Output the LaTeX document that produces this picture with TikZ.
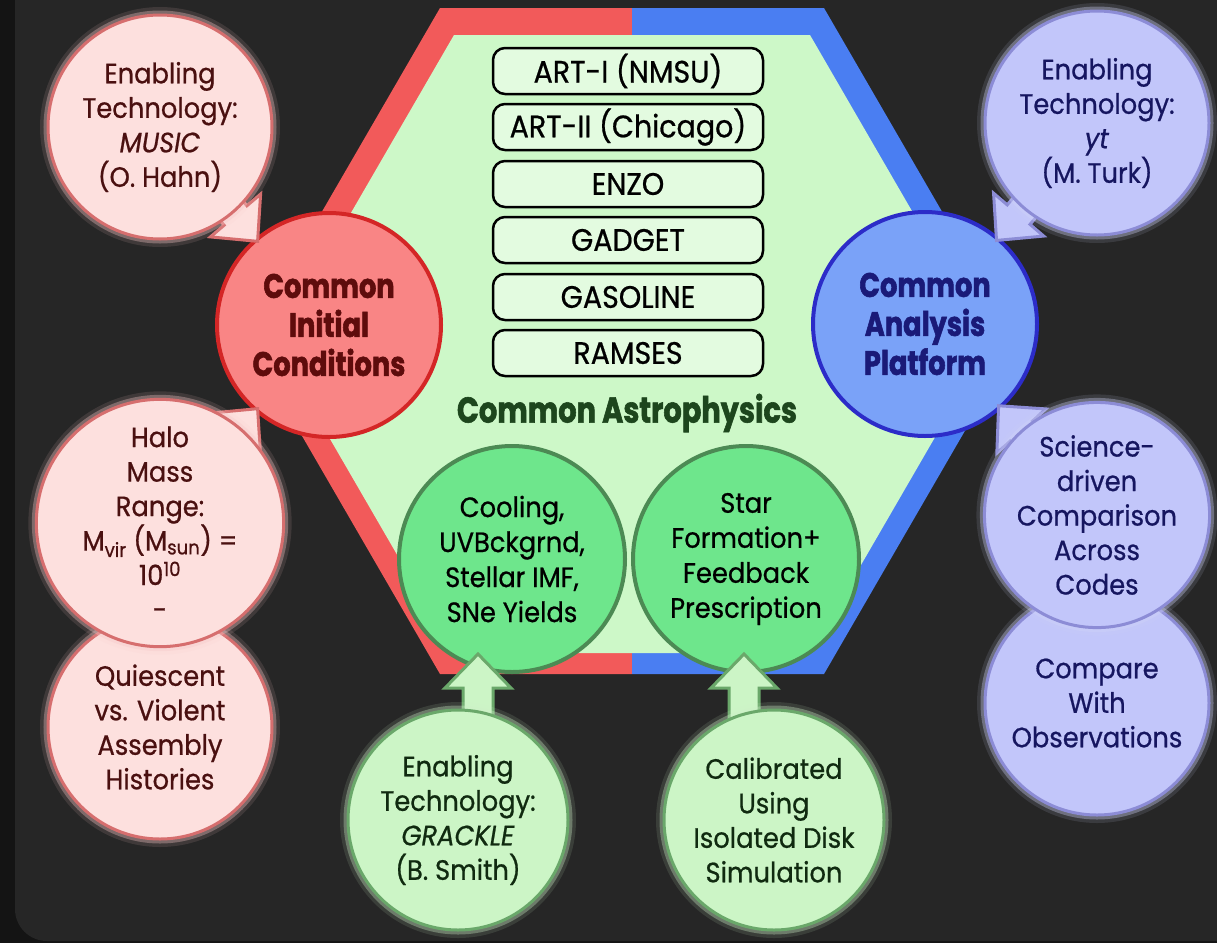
\documentclass[tikz,border=0pt]{standalone}
\usepackage{fontspec}
\setmainfont{Poppins}[FakeStretch=0.92, FakeBold=0.7]
\newfontfamily\headfont{Poppins}[FakeStretch=0.8, FakeBold=1.6]
\usetikzlibrary{calc}

\definecolor{outerbg}{HTML}{141414}
\definecolor{panel}{HTML}{262626}
\definecolor{hexred}{HTML}{F25A5A}
\definecolor{hexblue}{HTML}{4A7EF2}
\definecolor{hexfill}{HTML}{CDF8C8}
\definecolor{boxfill}{HTML}{E3FBE0}
\definecolor{astrotext}{HTML}{1D461D}
% satellite and hub colours
\definecolor{pinkfill}{HTML}{FDE0DE}
\definecolor{pinkline}{HTML}{D66E6E}
\definecolor{pinkglow}{HTML}{F6C8C8}
\definecolor{pinktext}{HTML}{4A1010}
\definecolor{redhubfill}{HTML}{F98585}
\definecolor{redhubline}{HTML}{D42626}
\definecolor{redhubtext}{HTML}{5E0C0C}
\definecolor{bluefill}{HTML}{C2C6FA}
\definecolor{blueline}{HTML}{8C8CD6}
\definecolor{blueglow}{HTML}{D0D3F8}
\definecolor{bluetext}{HTML}{161660}
\definecolor{bluehubfill}{HTML}{7AA2F8}
\definecolor{bluehubline}{HTML}{2C2CC8}
\definecolor{bluehubtext}{HTML}{1A1A78}
\definecolor{greenfill}{HTML}{CCF5C6}
\definecolor{greenline}{HTML}{6AA86A}
\definecolor{greenglow}{HTML}{CDEFC8}
\definecolor{greentext}{HTML}{102A10}
\definecolor{midgreen}{HTML}{6EE68C}
\definecolor{midgreenline}{HTML}{4C8A54}

\tikzset{
  satbase/.style={circle, minimum size=224pt, inner sep=0pt, line width=3pt,
    align=center, font=\fontsize{28}{34.5}\selectfont},
  glowof/.style={preaction={draw=#1, line width=16pt, draw opacity=0.12},
    preaction={draw=#1, line width=9pt, draw opacity=0.35}},
  pinksat/.style={satbase, fill=pinkfill, draw=pinkline, text=pinktext, glowof=pinkglow},
  bluesat/.style={satbase, fill=bluefill, draw=blueline, text=bluetext, glowof=blueglow},
  greensat/.style={satbase, minimum size=220pt, fill=greenfill, draw=greenline,
    text=greentext, glowof=greenglow},
  hub/.style={circle, minimum size=224pt, inner sep=0pt, line width=4pt,
    align=center, font=\headfont\bfseries\fontsize{34}{39}\selectfont},
  physics/.style={circle, minimum size=226pt, inner sep=0pt, line width=4pt,
    fill=midgreen, draw=midgreenline, text=black, align=center,
    font=\fontsize{28}{35}\selectfont},
  codebox/.style={draw=black, line width=2.5pt, rounded corners=12pt, fill=boxfill,
    minimum width=270pt, minimum height=46pt, inner sep=0pt,
    font=\fontsize{31}{36}\selectfont},
  pinkarrow/.style={fill=pinkfill, draw=pinkline, line width=3pt, line join=miter},
  bluearrow/.style={fill=bluefill, draw=blueline, line width=3pt, line join=miter},
  greenarrow/.style={fill=greenfill, draw=greenline, line width=3pt, line join=miter},
}

% block arrow: tip at #2, shaft running back toward #3
\newcommand\blockarr[3]{%
  \coordinate (ba-tip) at (#2);
  \coordinate (ba-base) at ($(#2)!34pt!(#3)$);
  \coordinate (ba-tail) at ($(#2)!95pt!(#3)$);
  \draw[#1] ($(ba-tail)!15pt!90:(ba-tip)$) -- ($(ba-base)!15pt!90:(ba-tip)$)
    -- ($(ba-base)!33pt!90:(ba-tip)$) -- (ba-tip)
    -- ($(ba-base)!33pt!-90:(ba-tip)$) -- ($(ba-base)!15pt!-90:(ba-tip)$)
    -- ($(ba-tail)!15pt!-90:(ba-tip)$) -- cycle;
}

\begin{document}
\begin{tikzpicture}[x=1pt,y=-1pt]
\useasboundingbox (0,0) rectangle (1217,943);
% backdrop
\fill[outerbg] (0,0) rectangle (1217,943);
\fill[panel, rounded corners=32pt] (15,-60) rectangle (1290,941);

% hexagon: red and blue halves of the rim, green interior
\fill[hexred] (632,8) -- (440,8) -- (247,341) -- (440,674) -- (632,674) -- cycle;
\fill[hexblue] (632,8) -- (824,8) -- (1017,341) -- (824,674) -- (632,674) -- cycle;
\fill[hexfill] (454,35) -- (810,35) -- (989,344) -- (810,653) -- (454,653) -- (275,344) -- cycle;

% simulation codes
\node[codebox] (art1) at (628,71) {ART-I (NMSU)};
\node[codebox] (art2) at (628,127) {ART-II (Chicago)};
\node[codebox] (enzo) at (628,184) {ENZO};
\node[codebox] (gadget) at (628,240) {GADGET};
\node[codebox] (gasoline) at (628,297) {GASOLINE};
\node[codebox] (ramses) at (628,353) {RAMSES};

\node[text=astrotext, font=\headfont\bfseries\fontsize{36}{40}\selectfont] (astro) at (627,413) {Common Astrophysics};

% physics modules
\node[physics] (cooling) at (512,559) {Cooling,\\UVBckgrnd,\\Stellar IMF,\\SNe Yields};
\node[physics] (star) at (746,559) {Star\\Formation+\\Feedback\\Prescription};

% hubs
\node[hub, fill=redhubfill, draw=redhubline, text=redhubtext] (initial) at (329,325) {Common\\Initial\\Conditions};
\node[hub, fill=bluehubfill, draw=bluehubline, text=bluehubtext] (analysis) at (925,324) {Common\\Analysis\\Platform};

% satellite positions (for arrow directions)
\coordinate (musicc) at (160,127);
\coordinate (haloc) at (160,523);
\coordinate (ytc) at (1097,123);
\coordinate (sciencec) at (1097,515);
\coordinate (grackc) at (478,820);
\coordinate (calibc) at (744,820);

% arrows into the hubs and modules
\coordinate (t1) at ($(initial)!110pt!(musicc)$);
\blockarr{pinkarrow}{t1}{musicc}
\coordinate (t2) at ($(initial)!110pt!(haloc)$);
\blockarr{pinkarrow}{t2}{haloc}
\coordinate (t3) at ($(analysis)!110pt!(ytc)$);
\blockarr{bluearrow}{t3}{ytc}
\coordinate (t4) at ($(analysis)!110pt!(sciencec)$);
\blockarr{bluearrow}{t4}{sciencec}
\coordinate (t5) at ($(cooling.south)+(-34,-20)$);
\blockarr{greenarrow}{t5}{grackc}
\coordinate (t6) at ($(star.south)+(-2,-20)$);
\blockarr{greenarrow}{t6}{calibc}

% left satellites
\node[pinksat] (music) at (musicc) {Enabling\\Technology:\\\textit{MUSIC}\\(O. Hahn)};
\node[pinksat] (quiescent) at (160,727) {Quiescent\\vs. Violent\\Assembly\\Histories};
\node[pinksat, minimum size=220pt] (halo) at (haloc) {Halo\\Mass\\Range:\\M\textsubscript{vir} (M\textsubscript{sun}) =\\10\textsuperscript{10}\\-};

% right satellites
\node[bluesat] (yt) at (ytc) {Enabling\\Technology:\\\textit{yt}\\(M. Turk)};
\node[bluesat] (compare) at (1097,703) {Compare\\With\\Observations};
\node[bluesat] (science) at (sciencec) {Science-\\driven\\Comparison\\Across\\Codes};

% bottom satellites
\node[greensat] (grackle) at (458,820) {Enabling\\Technology:\\\textit{GRACKLE}\\(B. Smith)};
\node[greensat] (calib) at (774,820) {Calibrated\\Using\\Isolated Disk\\Simulation};
\end{tikzpicture}
\end{document}
